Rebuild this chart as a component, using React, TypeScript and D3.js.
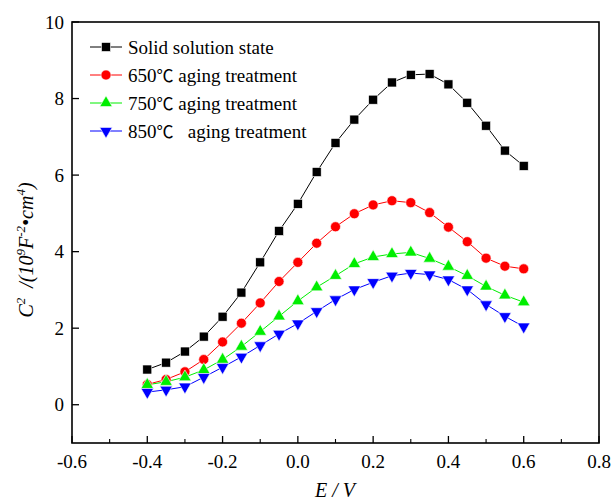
import React from "react";
import * as d3 from "d3";

const xValues = [-0.4, -0.35, -0.3, -0.25, -0.2, -0.15, -0.1, -0.05, 0, 0.05, 0.1, 0.15, 0.2, 0.25, 0.3, 0.35, 0.4, 0.45, 0.5, 0.55, 0.6];
const solidState = [0.92, 1.1, 1.39, 1.78, 2.3, 2.93, 3.72, 4.54, 5.25, 6.08, 6.84, 7.45, 7.97, 8.42, 8.62, 8.64, 8.37, 7.89, 7.29, 6.64, 6.24];
const aged650 = [0.53, 0.66, 0.86, 1.18, 1.64, 2.13, 2.66, 3.22, 3.72, 4.22, 4.65, 4.99, 5.22, 5.33, 5.28, 5.02, 4.64, 4.26, 3.83, 3.62, 3.55];
const aged750 = [0.52, 0.6, 0.72, 0.91, 1.18, 1.52, 1.91, 2.31, 2.71, 3.07, 3.37, 3.68, 3.86, 3.94, 3.98, 3.82, 3.61, 3.37, 3.09, 2.86, 2.68];
const aged850 = [0.33, 0.39, 0.47, 0.72, 0.98, 1.25, 1.55, 1.85, 2.12, 2.44, 2.75, 3.01, 3.2, 3.37, 3.44, 3.4, 3.27, 3.01, 2.62, 2.31, 2.04];

const seriesTemps = ["", "650", "750", "850"];
const seriesNames = ["Solid solution state", " aging treatment", " aging treatment", "   aging treatment"];
const seriesColors = ["#000000", "#ff0000", "#00ee00", "#0000ff"];
const seriesShapes = ["square", "circle", "triangle", "triangleDown"];
const seriesData = [solidState, aged650, aged750, aged850];

const xTicks = [-0.6, -0.4, -0.2, 0, 0.2, 0.4, 0.6, 0.8];
const xMinorTicks = [-0.5, -0.3, -0.1, 0.1, 0.3, 0.5, 0.7];
const yTicks = [0, 2, 4, 6, 8, 10];

const W = 612, H = 502;
const left = 72, right = 599, top = 22, bottom = 443;
const FONT = "'Liberation Serif', 'Times New Roman', 'DejaVu Serif', serif";
const CJK = "'Noto Sans CJK SC', sans-serif";

function Marker({ shape, x, y, color }: { shape: string; x: number; y: number; color: string }) {
  if (shape === "square") {
    const s = 9;
    return <rect x={x - s / 2} y={y - s / 2} width={s} height={s} fill={color} stroke="#fff" strokeWidth={0.6} />;
  }
  if (shape === "circle") {
    return <circle cx={x} cy={y} r={5} fill={color} stroke="#fff" strokeWidth={0.6} />;
  }
  const sym = d3.symbol().type(d3.symbolTriangle).size(68)();
  const rot = shape === "triangleDown" ? 180 : 0;
  return <path d={sym || ""} transform={`translate(${x},${y}) rotate(${rot})`} fill={color} stroke="#fff" strokeWidth={0.6} />;
}

const fmt = (t: number) => (t < 0 ? "-" : "") + Math.abs(t).toFixed(1);

export default function App() {
  const x = d3.scaleLinear().domain([-0.6, 0.8]).range([left, right]);
  const y = d3.scaleLinear().domain([-1, 10]).range([bottom, top]);
  const line = d3.line<number>().x((_, i) => x(xValues[i])).y((d) => y(d));
  const ts = { fontFamily: FONT };

  return (
    <svg width={W} height={H} style={{ position: "absolute", left: 0, top: 0, background: "#fff", fontFamily: FONT }}>
      <rect x={0} y={0} width={W} height={H} fill="#fff" />
      {seriesData.map((s, k) => (
        <path key={"l" + k} d={line(s) || ""} fill="none" stroke={seriesColors[k]} strokeWidth={1} />
      ))}
      {seriesData.map((s, k) =>
        s.map((v, i) => <Marker key={`m${k}-${i}`} shape={seriesShapes[k]} x={x(xValues[i])} y={y(v)} color={seriesColors[k]} />)
      )}
      <rect x={left} y={top} width={right - left} height={bottom - top} fill="none" stroke="#000" strokeWidth={1.6} />
      {xTicks.map((t) => (
        <g key={"xt" + t}>
          <line x1={x(t)} x2={x(t)} y1={bottom} y2={bottom - 7} stroke="#000" strokeWidth={1.3} />
          <text x={x(t)} y={468} textAnchor="middle" fontSize={19} style={ts}>{fmt(t)}</text>
        </g>
      ))}
      {xMinorTicks.map((t) => (
        <line key={"xm" + t} x1={x(t)} x2={x(t)} y1={bottom} y2={bottom - 4} stroke="#000" strokeWidth={1.1} />
      ))}
      {yTicks.map((t) => (
        <g key={"yt" + t}>
          <line x1={left} x2={left + 7} y1={y(t)} y2={y(t)} stroke="#000" strokeWidth={1.3} />
          <text x={64} y={y(t) + 6.5} textAnchor="end" fontSize={19} style={ts}>{t}</text>
        </g>
      ))}
      <text x={335} y={497} textAnchor="middle" fontSize={20} fontStyle="italic" style={ts}>E / V</text>
      <text transform="translate(33,250) rotate(-90)" textAnchor="middle" fontSize={20} fontStyle="italic" style={{ ...ts, whiteSpace: "pre" }}>
        <tspan>C</tspan>
        <tspan dy={-8} fontSize={13}>2</tspan>
        <tspan dy={8}>{"  /(10"}</tspan>
        <tspan dy={-8} fontSize={13}>9</tspan>
        <tspan dy={8}>F</tspan>
        <tspan dy={-8} fontSize={13}>-2</tspan>
        <tspan dy={8}>{"\u2022cm"}</tspan>
        <tspan dy={-8} fontSize={13}>4</tspan>
        <tspan dy={8}>)</tspan>
      </text>
      {seriesNames.map((name, k) => {
        const ly = 47 + k * 28;
        return (
          <g key={"lg" + k}>
            <line x1={90} x2={122} y1={ly} y2={ly} stroke={seriesColors[k]} strokeWidth={1} />
            <Marker shape={seriesShapes[k]} x={106} y={ly} color={seriesColors[k]} />
            <text x={128} y={ly + 6.5} fontSize={19} style={{ ...ts, whiteSpace: "pre" }}>
              {seriesTemps[k] && <tspan>{seriesTemps[k]}</tspan>}
              {seriesTemps[k] && <tspan style={{ fontFamily: CJK }} fontSize={17}>{"\u2103"}</tspan>}
              <tspan>{name}</tspan>
            </text>
          </g>
        );
      })}
    </svg>
  );
}
